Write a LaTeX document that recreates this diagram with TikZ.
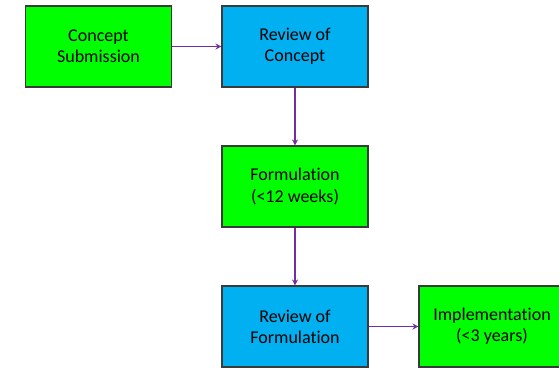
\documentclass[tikz,border=0pt]{standalone}
\usepackage{fontspec}
\setmainfont[Ligatures=NoCommon]{Carlito}
\usetikzlibrary{arrows.meta}
\definecolor{boxgreen}{HTML}{00FF00}
\definecolor{boxblue}{HTML}{00B0F0}
\definecolor{flowpurple}{HTML}{7030A0}
\definecolor{edgegray}{HTML}{3A3A3A}
\begin{document}
\begin{tikzpicture}[x=0.75pt,y=-0.75pt,
  stagebox/.style={draw=edgegray,line width=0.8pt,minimum width=109.5pt,
    minimum height=60.75pt,inner sep=0pt,align=center,
    font=\fontsize{13.5}{15.8}\selectfont},
  greenbox/.style={stagebox,fill=boxgreen},
  bluebox/.style={stagebox,fill=boxblue},
  flow/.style={draw=flowpurple,line width=0.8pt,
    -{Stealth[length=4.5pt,width=4.5pt]}}]
\useasboundingbox (0,0) rectangle (559,367);
\clip (0,0) rectangle (559,367);
\node[greenbox] (sub) at (98.5,46.5) {Concept\\Submission};
\node[bluebox] (rc) at (295,46.5) {Review of\\Concept};
\node[greenbox] (form) at (295,186.5) {Formulation\\(<12 weeks)};
\node[bluebox] (rf) at (295,326.5) {Review of\\Formulation};
\node[greenbox] (impl) at (492,326.5) {Implementation\\(<3 years)};
\draw[flow] (sub) -- (rc);
\draw[flow] (rc) -- (form);
\draw[flow] (form) -- (rf);
\draw[flow] (rf) -- (impl);
\end{tikzpicture}
\end{document}
